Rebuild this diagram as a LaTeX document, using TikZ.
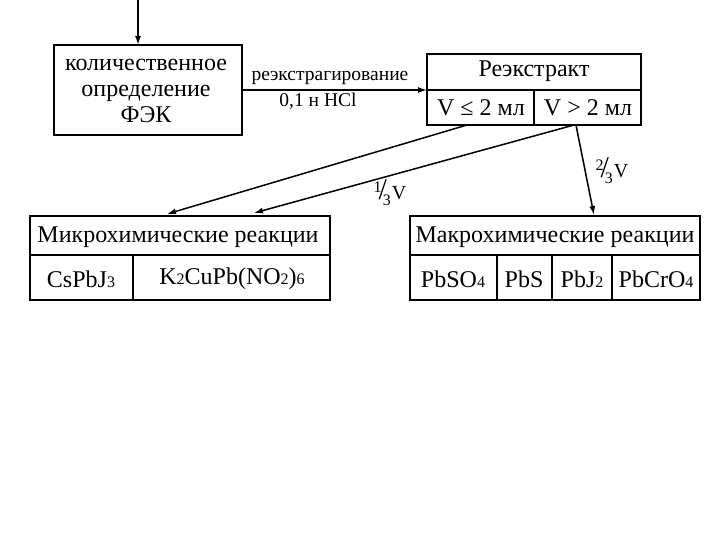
\documentclass[tikz,border=0pt]{standalone}
\usepackage{fontspec}
\usetikzlibrary{arrows.meta}
\setmainfont{Liberation Serif}
\newcommand{\sub}[1]{{\fontsize{16}{16}\selectfont #1}}
\newcommand{\frc}[2]{\raisebox{7pt}{\fontsize{16}{16}\selectfont #1}\kern-3pt{\fontsize{30}{30}\selectfont /}\kern-4pt\raisebox{-6pt}{\fontsize{16}{16}\selectfont #2}\kern1pt V}
\begin{document}
\begin{tikzpicture}[x=1pt,y=-1pt,
  bx/.style={draw,line width=1.2pt},
  txt/.style={font=\fontsize{24}{26}\selectfont},
  arr/.style={-{Latex[length=9pt,width=6pt]},line width=1.5pt}]
\useasboundingbox (0,0) rectangle (720,540);
% left box
\draw[bx] (54,45) rectangle (242,135);
\node[txt,align=center] (q) at (146,91) {количественное\\определение\\ФЭК};
\coordinate (top) at (138,0);
\coordinate (qt) at (138,45);
\draw[arr] (top) -- (qt);
% reextract box
\draw[bx] (427,54) rectangle (641,125);
\draw[bx] (427,90) -- (641,90);
\draw[bx] (534,90) -- (534,125);
\node[txt] (r) at (534,71) {Реэкстракт};
\node[txt] (v1) at (481,108) {V ≤ 2 мл};
\node[txt] (v2) at (588,108) {V > 2 мл};
\coordinate (qr) at (242,90);
\coordinate (rl) at (427,90);
\draw[arr] (qr) -- (rl);
\node[font=\fontsize{19.5}{20}\selectfont] (lab1) at (330,78) {реэкстрагирование};
\node[font=\fontsize{19.5}{20}\selectfont] (lab2) at (318,101) {0,1 н HCl};
% micro box
\draw[bx] (30,216) rectangle (330,300);
\draw[bx] (30,255) -- (330,255);
\draw[bx] (133,255) -- (133,300);
\node[txt] (mi) at (178,237) {Микрохимические реакции};
\node[txt] (cs) at (81,279) {CsPbJ\sub{3}};
\node[txt] (k) at (232,279) {K\sub{2}CuPb(NO\sub{2})\sub{6}};
% macro box
\draw[bx] (410,216) rectangle (700,300);
\draw[bx] (410,255) -- (700,255);
\draw[bx] (497,255) -- (497,300);
\draw[bx] (552,255) -- (552,300);
\draw[bx] (612,255) -- (612,300);
\node[txt] (ma) at (555,237) {Макрохимические реакции};
\node[txt] (p1) at (453,279) {PbSO\sub{4}};
\node[txt] (p2) at (524,279) {PbS};
\node[txt] (p3) at (582,279) {PbJ\sub{2}};
\node[txt] (p4) at (656,279) {PbCrO\sub{4}};
% connectors
\coordinate (a1) at (467,125);
\coordinate (a1e) at (167,214);
\coordinate (a2) at (574,125);
\coordinate (a2e) at (254,213);
\coordinate (a3) at (576,125);
\coordinate (a3e) at (594,215);
\draw[arr] (a1) -- (a1e);
\draw[arr] (a2) -- (a2e);
\draw[arr] (a3) -- (a3e);
\node[font=\fontsize{20}{20}\selectfont] (f1) at (390,193) {\frc{1}{3}};
\node[font=\fontsize{20}{20}\selectfont] (f2) at (612,171) {\frc{2}{3}};
\end{tikzpicture}
\end{document}
